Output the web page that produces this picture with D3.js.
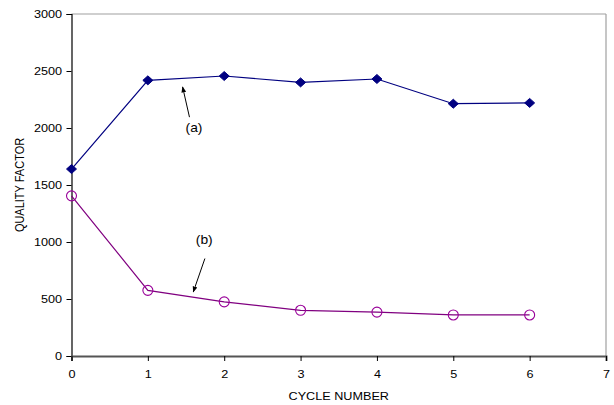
<!DOCTYPE html>
<html>
<head>
<meta charset="utf-8">
<script src="https://cdn.jsdelivr.net/npm/d3@7"></script>
<style>
  html, body { margin: 0; padding: 0; background: #fff; }
  text { font-family: "Liberation Sans", Arial, sans-serif; fill: #000; }
</style>
</head>
<body>
<svg id="chart" width="614" height="405"></svg>
<script>
// Quality factor versus cycle number for two samples
const cycles = [0, 1, 2, 3, 4, 5, 6];
const seriesA = [1640, 2418, 2456, 2400, 2430, 2213, 2220];
const seriesB = [1405, 576, 475, 401, 385, 360, 360];
const xTicks = [0, 1, 2, 3, 4, 5, 6, 7];
const yTicks = [0, 500, 1000, 1500, 2000, 2500, 3000];

const svg = d3.select("#chart");
const margin = { left: 71.5, right: 8, top: 14, bottom: 49 };
const W = 614, H = 405;
const FONT = "Liberation Sans, Arial, sans-serif";
const SX = 1.15; // text is drawn slightly wide

const x = d3.scaleLinear().domain([0, 7]).range([margin.left, W - margin.right]);
const y = d3.scaleLinear().domain([0, 3000]).range([H - margin.bottom, margin.top]);

// Plot frame: top and right edges in grey
svg.append("line")
  .attr("x1", x(0)).attr("x2", x(7)).attr("y1", y(3000)).attr("y2", y(3000))
  .attr("stroke", "#a0a0a0").attr("stroke-width", 1.2);
svg.append("line")
  .attr("x1", x(7)).attr("x2", x(7)).attr("y1", y(3000)).attr("y2", y(0))
  .attr("stroke", "#a0a0a0").attr("stroke-width", 1.2);

// Y axis
const yAxis = svg.append("g")
  .attr("transform", `translate(${x(0)},0)`)
  .call(d3.axisLeft(y).tickValues(yTicks).tickSize(5).tickPadding(4).tickFormat(d3.format("d")));
yAxis.select(".domain").attr("stroke", "#000").attr("stroke-width", 1.2);
yAxis.selectAll(".tick line").attr("stroke", "#000");
yAxis.selectAll("text")
  .style("font-size", "11px").style("font-family", FONT)
  .attr("x", -9.5 / SX).attr("transform", `scale(${SX},1)`);

// X axis
const xAxis = svg.append("g")
  .attr("transform", `translate(0,${y(0)})`)
  .call(d3.axisBottom(x).tickValues(xTicks).tickSize(5).tickPadding(9).tickFormat(d3.format("d")));
xAxis.select(".domain").attr("stroke", "#555").attr("stroke-width", 2);
xAxis.selectAll(".tick line").attr("stroke", "#000");
xAxis.selectAll("text")
  .style("font-size", "11px").style("font-family", FONT)
  .attr("transform", `scale(${SX},1)`);

// Axis titles
svg.append("text")
  .attr("transform", `translate(${(x(0) + x(7)) / 2},400) scale(${SX},1)`)
  .attr("text-anchor", "middle").style("font-size", "11px")
  .text("CYCLE NUMBER");
svg.append("text")
  .attr("transform", `translate(24,${(y(0) + y(3000)) / 2}) rotate(-90) scale(1,${SX})`)
  .attr("text-anchor", "middle").style("font-size", "11px")
  .text("QUALITY FACTOR");

const line = d3.line().x((d, i) => x(cycles[i])).y(d => y(d));

// Series (a): navy line with filled diamonds
svg.append("path").datum(seriesA)
  .attr("d", line).attr("fill", "none").attr("stroke", "#000080").attr("stroke-width", 1.2);
svg.append("g").selectAll("path").data(seriesA).join("path")
  .attr("transform", (d, i) => `translate(${x(cycles[i])},${y(d)})`)
  .attr("d", "M0,-4.5 L5,0 L0,4.5 L-5,0 Z")
  .attr("fill", "#000080").attr("stroke", "#000080");

// Series (b): purple line with open circles
svg.append("path").datum(seriesB)
  .attr("d", line).attr("fill", "none").attr("stroke", "#800080").attr("stroke-width", 1.2);
svg.append("g").selectAll("circle").data(seriesB).join("circle")
  .attr("cx", (d, i) => x(cycles[i])).attr("cy", d => y(d)).attr("r", 5)
  .attr("fill", "none").attr("stroke", "#990099").attr("stroke-width", 1.1);

// Annotation arrows and labels
svg.append("defs").append("marker")
  .attr("id", "arrowhead").attr("viewBox", "0 0 10 10")
  .attr("refX", 9).attr("refY", 5)
  .attr("markerWidth", 6).attr("markerHeight", 6)
  .attr("orient", "auto")
  .append("path").attr("d", "M0,1 L10,5 L0,9 Z").attr("fill", "#000");

const notes = [
  { label: "(a)", lx: 1.604, ly: 1966, x1: 1.545, y1: 2095, x2: 1.455, y2: 2360 },
  { label: "(b)", lx: 1.738, ly: 980, x1: 1.747, y1: 855, x2: 1.595, y2: 562 }
];
notes.forEach(n => {
  svg.append("line")
    .attr("x1", x(n.x1)).attr("y1", y(n.y1)).attr("x2", x(n.x2)).attr("y2", y(n.y2))
    .attr("stroke", "#000").attr("stroke-width", 1).attr("marker-end", "url(#arrowhead)");
  svg.append("text")
    .attr("transform", `translate(${x(n.lx)},${y(n.ly)}) scale(${SX},1)`)
    .attr("text-anchor", "middle").style("font-size", "12px")
    .text(n.label);
});
</script>
</body>
</html>
